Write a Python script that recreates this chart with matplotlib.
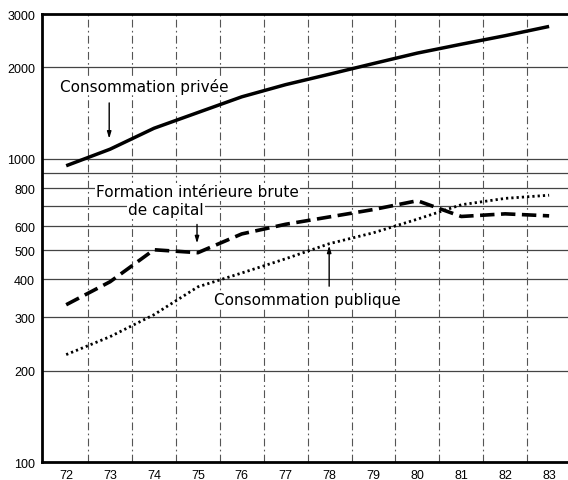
import matplotlib

matplotlib.use("Agg")
import matplotlib.pyplot as plt

# data (log scale)
years = [72, 73, 74, 75, 76, 77, 78, 79, 80, 81, 82, 83]
conso_privee = [948, 1075, 1260, 1420, 1600, 1755, 1900, 2060, 2230, 2385, 2545, 2730]
formation_capital = [330, 393, 501, 490, 565, 608, 643, 680, 727, 645, 658, 648]
conso_publique = [226, 259, 306, 378, 420, 468, 525, 570, 632, 705, 740, 758]

ytick_vals = [100, 200, 300, 400, 500, 600, 800, 1000, 2000, 3000]
hgrid_vals = [200, 300, 400, 500, 600, 700, 800, 900, 1000, 2000]
vgrid_vals = [y + 0.5 for y in years[:-1]]

fig = plt.figure(figsize=(5.68, 4.81), dpi=100)
ax = fig.add_axes([0.074, 0.0374, 0.926, 0.9314])

ax.set_yscale("log")
ax.set_ylim(100, 3000)
ax.set_xlim(71.45, 83.43)

for v in hgrid_vals:
    ax.axhline(v, color="#444444", lw=0.9, zorder=1)
for v in vgrid_vals:
    ax.axvline(v, color="#555555", lw=0.8, ls=(0, (7, 3, 1.5, 3)), zorder=1)

ax.plot(years, conso_privee, color="black", lw=2.5, solid_capstyle="butt", zorder=3)
ax.plot(years, formation_capital, color="black", lw=2.6,
        ls=(0, (4, 1.8)), zorder=3)
ax.plot(years, conso_publique, color="black", lw=2.0,
        ls=(0, (0.8, 1.1)), zorder=3)

box = dict(facecolor="white", edgecolor="none", pad=1)
txt = dict(fontsize=11, family="DejaVu Sans", color="black", bbox=box, zorder=2)
arrow = dict(arrowstyle="-|>,head_length=0.4,head_width=0.12", color="black", lw=1)

ax.text(71.86, 1742, "Consommation privée", va="center", ha="left", **txt)
ax.annotate("", xy=(72.98, 1140), xytext=(72.98, 1560), arrowprops=arrow)

ax.text(72.68, 778, "Formation intérieure brute", va="center", ha="left", **txt)
ax.text(73.41, 679, "de capital", va="center", ha="left", **txt)
ax.annotate("", xy=(74.98, 515), xytext=(74.98, 620), arrowprops=arrow)

ax.text(75.37, 343, "Consommation publique", va="center", ha="left", **txt)
ax.annotate("", xy=(77.99, 528), xytext=(77.99, 372), arrowprops=arrow)

ax.minorticks_off()
ax.set_yticks(ytick_vals)
ax.set_yticklabels([str(v) for v in ytick_vals], family="Liberation Sans", fontsize=9)
ax.set_xticks(years)
ax.set_xticklabels([str(y) for y in years], family="Liberation Sans", fontsize=9)
ax.tick_params(length=0, pad=5)

for side in ("left", "top", "bottom"):
    ax.spines[side].set_linewidth(2)
ax.spines["right"].set_visible(False)

fig.savefig("out.png", dpi=100)
